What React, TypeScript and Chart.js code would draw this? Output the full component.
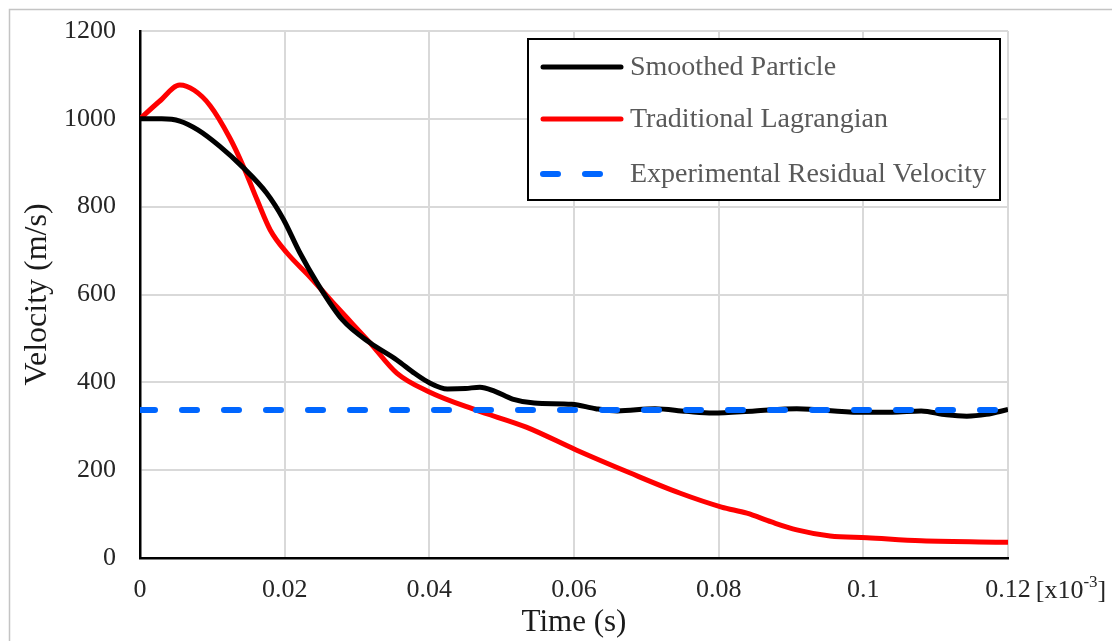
import React, { useEffect, useRef } from "react";
import { Chart, registerables } from "chart.js";

Chart.register(...registerables);

const FONT = '"Liberation Serif", "Times New Roman", serif';

// Time values in units of 1e-3 s
const spTime = [0, 0.003, 0.0055, 0.008, 0.011, 0.0142, 0.0175, 0.0198, 0.0221, 0.0245, 0.028, 0.0318, 0.0355, 0.038, 0.04, 0.0425, 0.045, 0.047, 0.049, 0.0515, 0.0545, 0.0597, 0.063, 0.066, 0.0712, 0.0755, 0.0792, 0.085, 0.0908, 0.0994, 0.104, 0.108, 0.1115, 0.1143, 0.117, 0.12];
const spVelocity = [1000, 1000, 995, 975, 938, 890, 831, 772, 695, 626, 542, 490, 451, 420, 399, 385, 386, 389, 380, 362, 353, 350, 340, 335, 340, 334, 330, 335, 340, 332, 332, 335, 326, 323, 327, 338];

const tlTime = [0, 0.0027, 0.0055, 0.0075, 0.0097, 0.0124, 0.0142, 0.0162, 0.018, 0.0203, 0.0235, 0.0272, 0.0318, 0.0355, 0.04, 0.0464, 0.0534, 0.0603, 0.0677, 0.0746, 0.0804, 0.0839, 0.0873, 0.0908, 0.0954, 0.1005, 0.108, 0.12];
const tlVelocity = [1000, 1040, 1077, 1065, 1030, 957, 895, 815, 747, 695, 640, 572, 490, 421, 378, 337, 298, 246, 194, 148, 116, 102, 82, 64, 50, 46, 39, 36];

const expTime = [0, 0.12];
const expVelocity = [337, 337];

const seriesLabels = ["Smoothed Particle", "Traditional Lagrangian", "Experimental Residual Velocity"];
const xTickLabels = ["0", "0.02", "0.04", "0.06", "0.08", "0.1", "0.12"];
const yTickLabels = ["0", "200", "400", "600", "800", "1000", "1200"];
const xUnitLabel = { base: "[x10", exp: "-3", close: "]" };

const toPoints = (xs: number[], ys: number[]) => xs.map((x, i) => ({ x, y: ys[i] }));

const framePlugin = {
  id: "frame",
  beforeDraw(chart: any) {
    const { ctx, width, height } = chart;
    ctx.save();
    ctx.fillStyle = "#ffffff";
    ctx.fillRect(0, 0, width, height);
    ctx.strokeStyle = "#c4c4c4";
    ctx.lineWidth = 1.5;
    ctx.beginPath();
    ctx.moveTo(9.5, height);
    ctx.lineTo(9.5, 9.5);
    ctx.lineTo(width, 9.5);
    ctx.stroke();
    ctx.restore();
  },
};

const extrasPlugin = {
  id: "extras",
  afterDraw(chart: any) {
    const { ctx, chartArea } = chart;
    ctx.save();
    // legend box
    const bx = 528, by = 39, bw = 472, bh = 161;
    ctx.fillStyle = "#ffffff";
    ctx.fillRect(bx, by, bw, bh);
    ctx.strokeStyle = "#000000";
    ctx.lineWidth = 2;
    ctx.strokeRect(bx, by, bw, bh);
    const rowsY = [67, 119, 174];
    chart.data.datasets.forEach((ds: any, i: number) => {
      const y = rowsY[i];
      ctx.save();
      ctx.strokeStyle = ds.borderColor;
      ctx.lineWidth = ds.borderWidth;
      ctx.lineCap = "round";
      if (ds.borderDash && ds.borderDash.length) {
        ctx.setLineDash(ds.borderDash);
        ctx.beginPath();
        ctx.moveTo(543, y);
        ctx.lineTo(622, y);
        ctx.stroke();
      } else {
        ctx.beginPath();
        ctx.moveTo(543, y);
        ctx.lineTo(621, y);
        ctx.stroke();
      }
      ctx.restore();
      ctx.fillStyle = "#595959";
      ctx.font = `28px ${FONT}`;
      ctx.textAlign = "left";
      ctx.textBaseline = "middle";
      ctx.fillText(ds.label, 630, y + 1);
    });
    // unit label after last x tick
    ctx.fillStyle = "#262626";
    ctx.textBaseline = "middle";
    ctx.textAlign = "left";
    ctx.font = `26px ${FONT}`;
    const lastW = ctx.measureText(xTickLabels[xTickLabels.length - 1]).width;
    let x = chartArea.right + lastW / 2 + 5;
    const y = chartArea.bottom + 33;
    ctx.fillText(xUnitLabel.base, x, y);
    x += ctx.measureText(xUnitLabel.base).width;
    ctx.font = `17px ${FONT}`;
    ctx.fillText(xUnitLabel.exp, x, y - 8);
    x += ctx.measureText(xUnitLabel.exp).width;
    ctx.font = `26px ${FONT}`;
    ctx.fillText(xUnitLabel.close, x, y);
    ctx.restore();
  },
};

export default function App() {
  const canvasRef = useRef<HTMLCanvasElement | null>(null);

  useEffect(() => {
    if (!canvasRef.current) return;
    const chart = new Chart(canvasRef.current, {
      type: "line",
      data: {
        datasets: [
          {
            label: seriesLabels[0],
            data: toPoints(spTime, spVelocity),
            borderColor: "#000000",
            borderWidth: 5,
            pointRadius: 0,
            cubicInterpolationMode: "monotone",
            order: 2,
          },
          {
            label: seriesLabels[1],
            data: toPoints(tlTime, tlVelocity),
            borderColor: "#ff0000",
            borderWidth: 5,
            pointRadius: 0,
            cubicInterpolationMode: "monotone",
            order: 3,
          },
          {
            label: seriesLabels[2],
            data: toPoints(expTime, expVelocity),
            borderColor: "#0066ff",
            borderWidth: 6,
            borderDash: [15, 27],
            borderCapStyle: "round",
            pointRadius: 0,
            order: 1,
          },
        ],
      },
      options: {
        animation: false,
        responsive: true,
        maintainAspectRatio: false,
        layout: { padding: { left: 0, top: 31, right: 104, bottom: 0 } },
        plugins: { legend: { display: false }, tooltip: { enabled: false } },
        scales: {
          x: {
            type: "linear",
            min: 0,
            max: 0.12,
            afterFit: (s: any) => { s.height = 83; s.paddingLeft = 0; s.paddingRight = 0; },
            afterBuildTicks: (s: any) => {
              s.ticks = xTickLabels.map((_, i) => ({ value: i * 0.02 }));
            },
            ticks: {
              autoSkip: false,
              maxRotation: 0,
              padding: 17,
              color: "#262626",
              font: { family: FONT, size: 26 },
              callback: (_v: any, i: number) => xTickLabels[i],
            },
            grid: { color: "#d9d9d9", lineWidth: 2, drawTicks: false },
            border: { color: "#000000", width: 2.5 },
            title: {
              display: true,
              text: "Time (s)",
              color: "#1a1a1a",
              font: { family: FONT, size: 31 },
              padding: { top: 0, bottom: 0 },
            },
          },
          y: {
            type: "linear",
            min: 0,
            max: 1200,
            afterFit: (s: any) => { s.width = 140; s.paddingTop = 0; s.paddingBottom = 0; },
            afterBuildTicks: (s: any) => {
              s.ticks = yTickLabels.map((_, i) => ({ value: i * 200 }));
            },
            ticks: {
              padding: 24,
              color: "#262626",
              font: { family: FONT, size: 26 },
              callback: (_v: any, i: number) => yTickLabels[i],
            },
            grid: { color: "#d9d9d9", lineWidth: 2, drawTicks: false },
            border: { color: "#000000", width: 2.5 },
            title: {
              display: true,
              text: "Velocity (m/s)",
              color: "#1a1a1a",
              font: { family: FONT, size: 32 },
              padding: { top: 18, bottom: 0 },
            },
          },
        },
      },
      plugins: [framePlugin, extrasPlugin],
    } as any);
    return () => chart.destroy();
  }, []);

  return (
    <div style={{ position: "absolute", left: 0, top: 0, width: 1112, height: 641, background: "#fff" }}>
      <canvas ref={canvasRef} />
    </div>
  );
}
